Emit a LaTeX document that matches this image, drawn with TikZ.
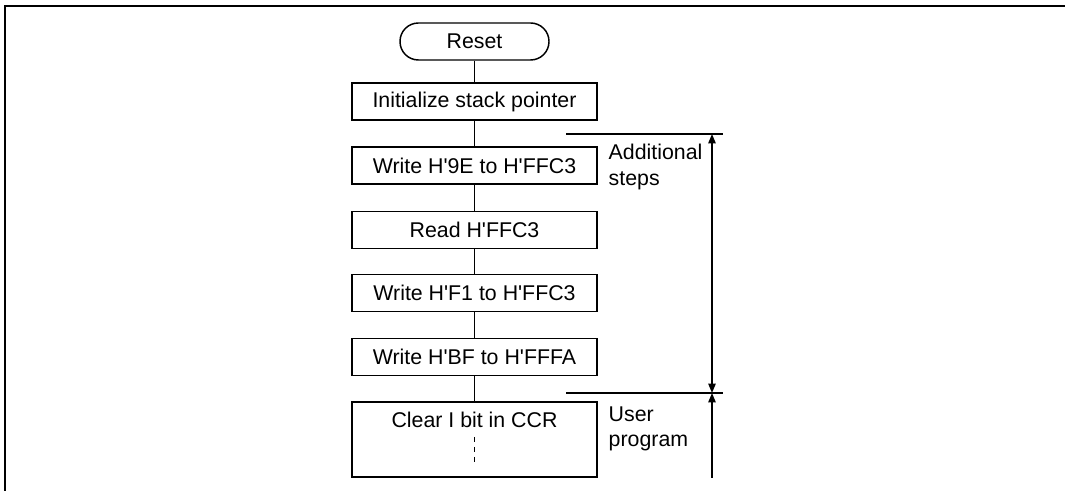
\documentclass[tikz,border=0pt]{standalone}
\usepackage{fontspec}
\setsansfont{Liberation Sans}
\usetikzlibrary{arrows.meta, positioning}
\newcommand{\hexq}{H\textquotesingle}
\tikzset{
  every picture/.style={font=\sffamily\fontsize{16}{19}\selectfont, line width=1.1pt},
  box/.style={draw, rectangle, minimum width=183.75pt, minimum height=27.75pt, inner sep=0pt},
  term/.style={draw, rectangle, rounded corners=13.8pt, minimum width=111.75pt, minimum height=27.75pt, inner sep=0pt},
  side/.style={anchor=west, align=left, inner sep=0pt},
  span/.style={{Triangle[length=7pt, width=5.5pt]}-{Triangle[length=7pt, width=5.5pt]}},
  up/.style={-{Triangle[length=7pt, width=5.5pt]}},
}

\begin{document}
\begin{tikzpicture}[x=0.75pt, y=-0.75pt]
  \useasboundingbox (0,0) rectangle (1065,491);
  \draw[line width=1.7pt] (5,491) -- (5,6) -- (1065,6);
  \node[term] (reset) at (474.5,41.5) {Reset};
  \node[box] (init) at (474.5,101.5) {Initialize stack pointer};
  \node[box] (wr9e) at (474.5,165.5) {Write \hexq9E to \hexq FFC3};
  \node[box] (rd) at (474.5,230) {Read \hexq FFC3};
  \node[box] (wrf1) at (474.5,293) {Write \hexq F1 to \hexq FFC3};
  \node[box] (wrbf) at (474.5,357) {Write \hexq BF to \hexq FFFA};
  \node[box, text height=19.5pt, text depth=36.75pt] (clear) at (474.5,439.5) {Clear I bit in CCR};
  \foreach \a/\b in {reset/init, init/wr9e, wr9e/rd, rd/wrf1, wrf1/wrbf, wrbf/clear}
    \draw (\a.south) -- (\b.north);
  \draw[dash pattern=on 3.75pt off 3.75pt] ([yshift=1.9pt]clear.center) -- ([yshift=-16.9pt]clear.center);
  \coordinate (addl) at (566,134);
  \coordinate (addr) at (723,134);
  \coordinate (userl) at (566,393);
  \coordinate (userr) at (723,393);
  \coordinate (spinetop) at (712,134);
  \coordinate (spinemid) at (712,393);
  \coordinate (spinebot) at (712,478);
  \draw (addl) -- (addr);
  \draw (userl) -- (userr);
  \draw[span] (spinetop) -- (spinemid);
  \draw[up] (spinebot) -- (spinemid);
  \node[side] (addtext) at (608,167) {Additional\\steps};
  \node[side] (usertext) at (608,429) {User\\program};
\end{tikzpicture}
\end{document}
